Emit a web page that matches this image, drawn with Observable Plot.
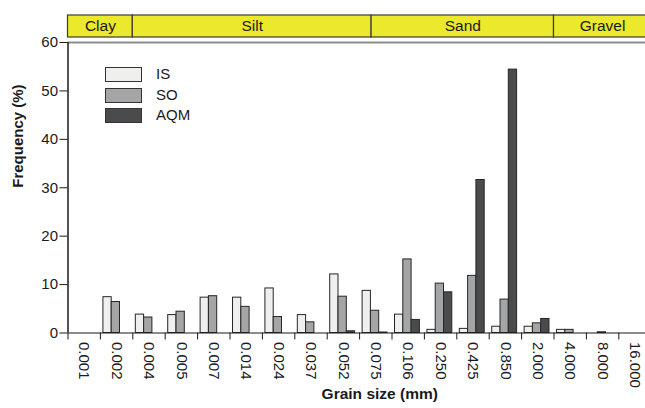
<!DOCTYPE html>
<html>
<head>
<meta charset="utf-8">
<script src="https://cdn.jsdelivr.net/npm/d3@7"></script>
<script src="https://cdn.jsdelivr.net/npm/@observablehq/plot@0.6"></script>
<style>
  body { margin: 0; background: #fff; }
  #chart { position: relative; width: 645px; height: 408px; overflow: hidden;
           font-family: "Liberation Sans", Arial, Helvetica, sans-serif; color: #1a1a1a; }
  #chart > .layer { position: absolute; left: 0; }
  .legend { position: absolute; left: 105px; top: 67px; font-size: 15px; }
  .legend .item { position: relative; height: 14px; margin-bottom: 6.5px; }
  .legend .swatch { position: absolute; left: 0; top: 0; width: 35px; height: 13px;
                    border: 1px solid #333; }
  .legend .name { position: absolute; left: 51px; top: -2px; line-height: 18px; }
</style>
</head>
<body>
<div id="chart"></div>
<script>
// Grain-size classes (mm) along the x axis
const sizes = ["0.001", "0.002", "0.004", "0.005", "0.007", "0.014", "0.024", "0.037", "0.052",
               "0.075", "0.106", "0.250", "0.425", "0.850", "2.000", "4.000", "8.000", "16.000"];

// Frequency (%) per sample
const seriesNames = ["IS", "SO", "AQM"];
const isValues  = [0, 7.4, 3.8, 3.7, 7.3, 7.3, 9.2, 3.7, 12.1, 8.7, 3.8, 0.65, 0.85, 1.3, 1.3, 0.65, 0, 0];
const soValues  = [0, 6.4, 3.2, 4.4, 7.6, 5.4, 3.3, 2.2, 7.5, 4.6, 15.2, 10.2, 11.8, 6.9, 2.0, 0.65, 0.15, 0];
const aqmValues = [0, 0, 0, 0, 0, 0, 0, 0, 0.35, 0.1, 2.7, 8.4, 31.6, 54.4, 2.9, 0, 0, 0];
const seriesColors = ["#eff0ee", "#a3a5a6", "#4a4b4d"];

// Sediment classes, bounds given in grain-size class positions
const classNames = ["Clay", "Silt", "Sand", "Gravel"];
const classEdges = [0, 2, 9.37, 15, 18];

const yTicks = [0, 10, 20, 30, 40, 50, 60];

const font = `"Liberation Sans", Arial, Helvetica, sans-serif`;

// long table: one row per drawn bar
const seriesValues = [isValues, soValues, aqmValues];
const rows = [];
sizes.forEach((size, i) => {
  seriesValues.forEach((vals, k) => {
    if (vals[i] > 0) rows.push({i, k, series: seriesNames[k], size, value: vals[i]});
  });
});

const classes = classNames.map((name, j) => ({name, x1: classEdges[j], x2: classEdges[j + 1]}));

// each class slot holds three side-by-side bars
const groupOffset = 0.093, barW = 0.256;
const xScale = {type: "linear", domain: [0, sizes.length], range: [67.5, 650.7]};

const chart = document.getElementById("chart");

const main = Plot.plot({
  width: 645,
  height: 408,
  marginTop: 42,
  marginBottom: 75.5,
  marginLeft: 67.5,
  marginRight: 0,
  style: {fontFamily: font, fontSize: "15px", color: "#1a1a1a", background: "transparent"},
  x: {...xScale, axis: null},
  y: {domain: [0, 60], axis: null},
  color: {domain: seriesNames, range: seriesColors},
  marks: [
    Plot.ruleY([60], {stroke: "#8c8c8c", strokeWidth: 2}),
    Plot.rectY(rows, {
      x1: d => d.i + groupOffset + d.k * barW,
      x2: d => d.i + groupOffset + (d.k + 1) * barW,
      y: "value",
      fill: "series",
      stroke: "#262626",
      strokeWidth: 1
    }),
    Plot.ruleX([0], {stroke: "#1a1a1a", strokeWidth: 1.5}),
    Plot.ruleY([0], {stroke: "#1a1a1a", strokeWidth: 1.2}),
    Plot.axisY({ticks: yTicks, tickSize: 8, tickPadding: 2, fontSize: 15, label: null, stroke: "#1a1a1a"}),
    // tick marks on class boundaries
    Plot.axisX({ticks: d3.range(sizes.length), tickSize: 7, tickFormat: () => "", label: null, stroke: "#1a1a1a"}),
    // class labels centred between boundaries
    Plot.axisX({
      ticks: d3.range(sizes.length).map(i => i + 0.5),
      tickSize: 0,
      tickRotate: 90,
      tickPadding: 9,
      tickFormat: d => sizes[Math.floor(d)],
      fontSize: 15,
      label: null
    }),
    Plot.text(["Frequency (%)"], {frameAnchor: "left", rotate: -90, dx: -50, fontWeight: "bold", fontSize: 15}),
    Plot.text(["Grain size (mm)"], {frameAnchor: "bottom", dx: 23, dy: 65.5, fontWeight: "bold", fontSize: 15.5})
  ]
});
main.classList.add("layer");
main.style.top = "0px";
chart.appendChild(main);

// sediment class strip above the plot
const header = Plot.plot({
  width: 645,
  height: 24,
  marginTop: 1,
  marginBottom: 1,
  marginLeft: 0,
  marginRight: 0,
  style: {fontFamily: font, fontSize: "15px", color: "#1a1a1a", background: "transparent"},
  x: {...xScale, axis: null},
  marks: [
    Plot.rect(classes, {x1: "x1", x2: "x2", fill: "#ece82b", stroke: "#3a3a3a", strokeWidth: 1.2}),
    Plot.text(classes, {x: d => (d.x1 + d.x2) / 2, text: "name", frameAnchor: "middle", fontSize: 15.5, fill: "#1a1a1a"})
  ]
});
header.classList.add("layer");
header.style.top = "14px";
chart.appendChild(header);

// legend
const legend = document.createElement("div");
legend.className = "legend";
seriesNames.forEach((name, k) => {
  const item = document.createElement("div");
  item.className = "item";
  const sw = document.createElement("div");
  sw.className = "swatch";
  sw.style.background = seriesColors[k];
  const label = document.createElement("div");
  label.className = "name";
  label.textContent = name;
  item.appendChild(sw);
  item.appendChild(label);
  legend.appendChild(item);
});
chart.appendChild(legend);
</script>
</body>
</html>
